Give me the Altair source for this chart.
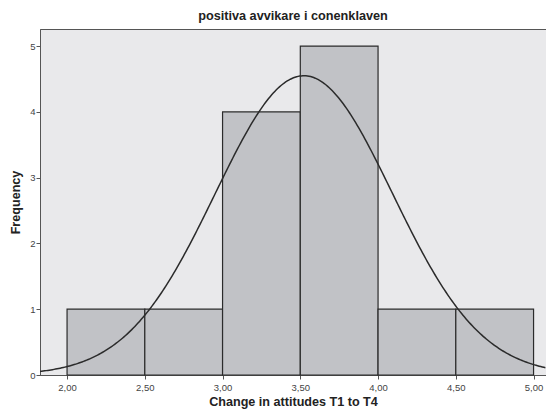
import altair as alt
import pandas as pd

# Histogram bins (Change in attitudes T1 to T4)
bin_start = [2.0, 2.5, 3.0, 3.5, 4.0, 4.5]
bin_end = [2.5, 3.0, 3.5, 4.0, 4.5, 5.0]
counts = [1, 1, 4, 5, 1, 1]

# Normal-curve parameters (as shown by SPSS)
n_total = 13
bin_width = 0.5
mean_val = 3.523
sd_val = 0.570

x_ticks = [2.0, 2.5, 3.0, 3.5, 4.0, 4.5, 5.0]
y_ticks = [0, 1, 2, 3, 4, 5]

x_domain = [1.826, 5.080]
y_domain = [0, 5.26]

FONT = "Liberation Sans"

bars_df = pd.DataFrame({"start": bin_start, "end": bin_end, "count": counts})

x_scale = alt.Scale(domain=x_domain, nice=False, zero=False)
y_scale = alt.Scale(domain=y_domain, nice=False)

bars = alt.Chart(bars_df).mark_rect(
    fill="#c1c2c6", stroke="#2b2b2b", strokeWidth=1.2
).encode(
    x=alt.X("start:Q", scale=x_scale,
            axis=alt.Axis(values=x_ticks, title="Change in attitudes T1 to T4",
                          labelExpr="replace(format(datum.value, '.2f'), '.', ',')",
                          grid=False, ticks=True, tickSize=4, tickColor="#555",
                          domain=True, domainColor="#555",
                          labelColor="#444", labelFontSize=9.5, labelFont=FONT,
                          labelPadding=3,
                          titleFont=FONT, titleFontSize=12.6, titleFontWeight="bold",
                          titleColor="#222", titlePadding=4)),
    x2="end:Q",
    y=alt.Y("count:Q", scale=y_scale,
            axis=alt.Axis(values=y_ticks, title="Frequency", format="d",
                          grid=False, ticks=True, tickSize=4, tickColor="#555",
                          domain=True, domainColor="#555",
                          labelColor="#444", labelFontSize=9.5, labelFont=FONT,
                          labelPadding=1,
                          titleFont=FONT, titleFontSize=12.6, titleFontWeight="bold",
                          titleColor="#222", titlePadding=7)),
    y2=alt.datum(0),
)

curve = alt.Chart(alt.sequence(x_domain[0], x_domain[1] + 0.001, 0.01, as_="x")).transform_calculate(
    y=f"{n_total}*{bin_width}/({sd_val}*sqrt(2*PI))*exp(-0.5*pow((datum.x-{mean_val})/{sd_val},2))"
).mark_line(color="#2b2b2b", strokeWidth=1.5, clip=True).encode(
    x=alt.X("x:Q", scale=x_scale),
    y=alt.Y("y:Q", scale=y_scale),
)

chart = alt.layer(bars, curve).properties(
    width=506,
    height=346,
    title=alt.TitleParams("positiva avvikare i conenklaven", font=FONT, fontSize=12.7,
                          fontWeight="bold", color="#222", offset=6, anchor="middle"),
    autosize=alt.AutoSizeParams(type="none"),
    padding={"left": 32, "top": 21, "right": 0, "bottom": 34},
).configure(
    background="white",
    view=alt.ViewConfig(fill="#e9e9eb", stroke="#555", strokeWidth=1),
)

chart.save("out.html", embed_options={"renderer": "svg", "actions": False})
